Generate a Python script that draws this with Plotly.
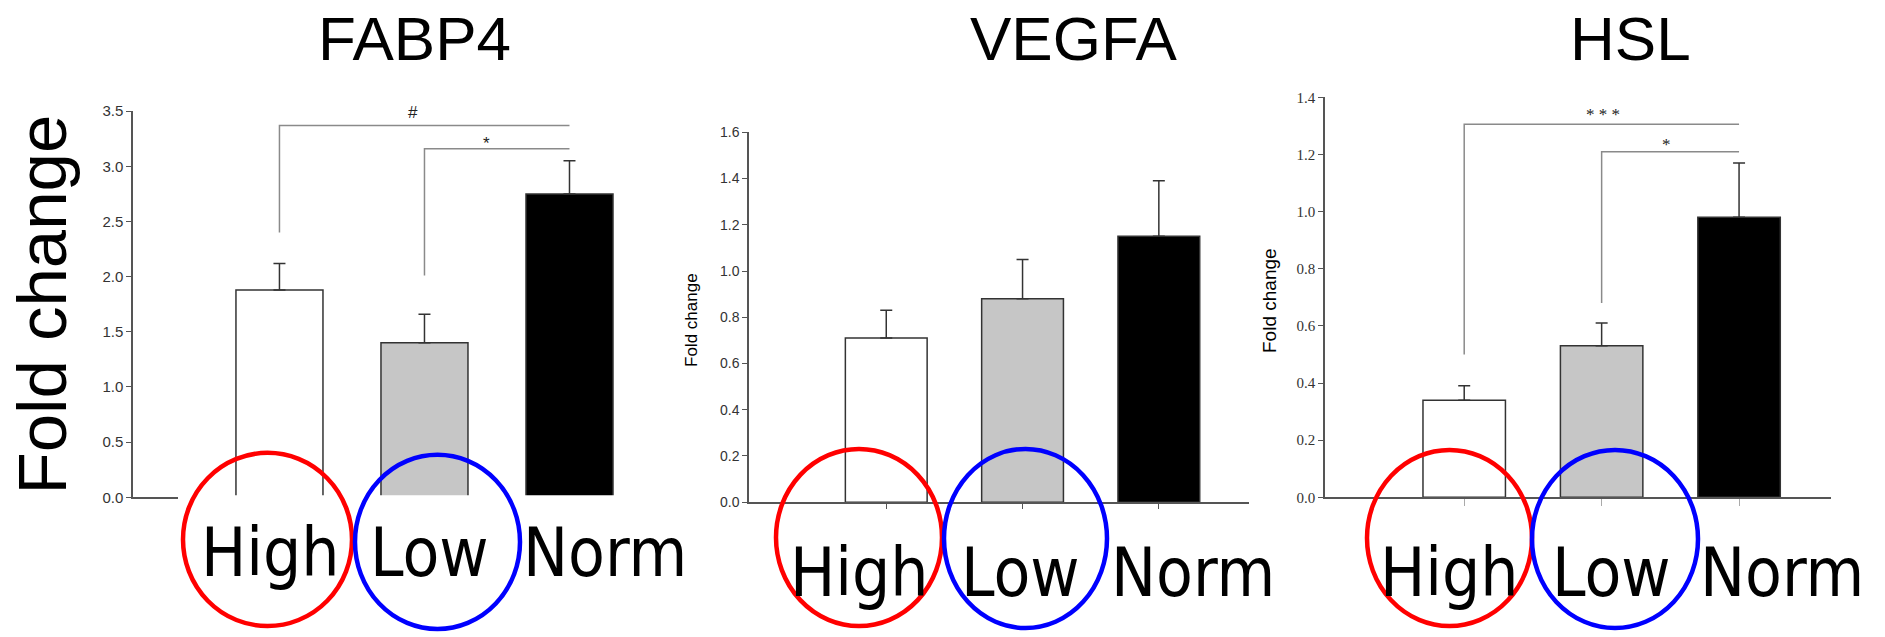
import plotly.graph_objects as go

W, H = 1885, 637

# ---- data -------------------------------------------------------------
groups = ["High", "Low", "Norm"]
genes = ["FABP4", "VEGFA", "HSL"]

fabp4_mean = [1.88, 1.40, 2.75]
fabp4_sem = [0.24, 0.26, 0.30]
vegfa_mean = [0.71, 0.88, 1.15]
vegfa_sem = [0.12, 0.17, 0.24]
hsl_mean = [0.34, 0.53, 0.98]
hsl_sem = [0.05, 0.08, 0.19]

y_max = [3.5, 1.6, 1.4]
y_dtick = [0.5, 0.2, 0.2]

# significance brackets
bracket_panel = [0, 0, 2, 2]
bracket_from = [0, 1, 0, 1]
bracket_to = [2, 2, 2, 2]
bracket_low = [2.40, 2.01, 0.50, 0.68]
bracket_high = [3.37, 3.16, 1.306, 1.209]
bracket_label = ["#", "*", "* * *", "*"]
bracket_label_x = [0.92, 1.43, 1.01, 1.47]
bracket_label_y = [3.49, 3.21, 1.34, 1.235]

# ---- styling / layout ---------------------------------------------------
bar_colors = ["#ffffff", "#c6c6c6", "#000000"]
means = [fabp4_mean, vegfa_mean, hsl_mean]
sems = [fabp4_sem, vegfa_sem, hsl_sem]

# plot boxes in pixels: left, right, top, bottom
boxes = [(133, 656.5, 105, 501.7), (749, 1248.8, 126.7, 506.7), (1325, 1831, 90.7, 501.7)]
x_ranges = [(-1.01, 2.6), (-1.007, 2.66), (-1.013, 2.669)]
tick_fonts = [
    dict(family="Arial, Liberation Sans, sans-serif", size=15, color="#333"),
    dict(family="Arial, Liberation Sans, sans-serif", size=14, color="#333"),
    dict(family="Times New Roman, Liberation Serif, serif", size=15, color="#333"),
]


def px(x):
    return x / W


def py(y):
    return 1 - y / H


fig = go.Figure()
layout = dict(
    width=W, height=H, margin=dict(l=0, r=0, t=0, b=0),
    paper_bgcolor="white", plot_bgcolor="white", showlegend=False,
    bargap=0.4,
)

for i in range(3):
    sfx = "" if i == 0 else str(i + 1)
    fig.add_trace(go.Bar(
        x=[0, 1, 2], y=means[i],
        xaxis="x" + sfx, yaxis="y" + sfx,
        width=0.6,
        marker=dict(color=bar_colors, line=dict(color="#333", width=1.5)),
        error_y=dict(type="data", array=sems[i], arrayminus=[0, 0, 0], symmetric=False,
                     color="#333", thickness=1.5, width=6),
    ))
    l, r, t, b = boxes[i]
    layout["xaxis" + sfx] = dict(
        domain=[px(l), px(r)], range=list(x_ranges[i]), anchor="y" + sfx,
        showline=True, linecolor="#555", linewidth=1.5, mirror=False,
        showgrid=False, zeroline=False, showticklabels=False,
        tickmode="array", tickvals=[0, 1, 2],
        ticks="" if i == 0 else "outside", ticklen=5 if i == 1 else 7,
        tickcolor="#555" if i == 1 else "#aaa", tickwidth=1.2,
    )
    layout["yaxis" + sfx] = dict(
        domain=[py(b), py(t)], range=[0, y_max[i]], anchor="x" + sfx,
        showline=True, linecolor="#555", linewidth=1.5,
        showgrid=False, zeroline=False,
        ticks="outside", ticklen=5, tickcolor="#555", tickwidth=1.2,
        dtick=y_dtick[i], tick0=0, tickformat=".1f", tickfont=tick_fonts[i],
    )

shapes = []
annotations = []

# brackets
for k in range(len(bracket_panel)):
    i = bracket_panel[k]
    sfx = "" if i == 0 else str(i + 1)
    x0, x1 = bracket_from[k], bracket_to[k]
    shapes.append(dict(
        type="path", xref="x" + sfx, yref="y" + sfx,
        path=f"M {x0},{bracket_low[k]} L {x0},{bracket_high[k]} L {x1},{bracket_high[k]}",
        line=dict(color="#8a8a8a", width=1.5), layer="above",
    ))
    annotations.append(dict(
        xref="x" + sfx, yref="y" + sfx, x=bracket_label_x[k], y=bracket_label_y[k],
        text=bracket_label[k], showarrow=False,
        font=dict(family=("Times New Roman, Liberation Serif, serif" if i == 2 else "Arial, Liberation Sans, sans-serif"),
                  size=17, color="#222"),
        xanchor="center", yanchor="middle",
    ))

# white label strip pasted over the bottom of the first panel
shapes.append(dict(type="rect", xref="paper", yref="paper",
                   x0=px(178), x1=px(705), y0=py(637), y1=py(499.5),
                   fillcolor="white", line=dict(width=0), layer="above"))

# group circles
ellipses = [
    ((183, 352, 456, 634), "#ff0000"), ((355, 520, 458, 637), "#0000ff"),
    ((776, 942, 452, 634), "#ff0000"), ((944, 1107, 452, 636), "#0000ff"),
    ((1367, 1532, 453, 634), "#ff0000"), ((1532, 1698, 453, 636), "#0000ff"),
]
for (x0, x1, y0, y1), c in ellipses:
    shapes.append(dict(type="circle", xref="paper", yref="paper",
                       x0=px(x0), x1=px(x1), y0=py(y1), y1=py(y0),
                       line=dict(color=c, width=4.5), layer="above"))

# gene titles
title_x = [414.5, 1073, 1630]
for i, g in enumerate(genes):
    annotations.append(dict(
        xref="paper", yref="paper", x=px(title_x[i]), y=py(30), text=g, showarrow=False,
        font=dict(family="Arial, Liberation Sans, sans-serif", size=62, color="black"),
        xanchor="center", yanchor="middle",
    ))

# group labels under each panel
label_x = [[270, 429.5, 605], [859.5, 1020, 1193], [1449.5, 1611.5, 1782]]
label_y = [559, 579, 579]
for i in range(3):
    for j, g in enumerate(groups):
        annotations.append(dict(
            xref="paper", yref="paper", x=px(label_x[i][j]), y=py(label_y[i]), text=g,
            showarrow=False,
            font=dict(family="DejaVu Sans Condensed, DejaVu Sans, sans-serif", size=67, color="black"),
            xanchor="center", yanchor="middle",
        ))

# y-axis titles
ytitles = [(42, 303.5, 69), (692, 319.5, 17), (1270, 300, 19)]
for x, y, s in ytitles:
    annotations.append(dict(
        xref="paper", yref="paper", x=px(x), y=py(y), text="Fold change", showarrow=False,
        textangle=-90, font=dict(family="Arial, Liberation Sans, sans-serif", size=s, color="black"),
        xanchor="center", yanchor="middle",
    ))

layout["shapes"] = shapes
layout["annotations"] = annotations
fig.update_layout(**layout)
fig.write_html("out.html")
